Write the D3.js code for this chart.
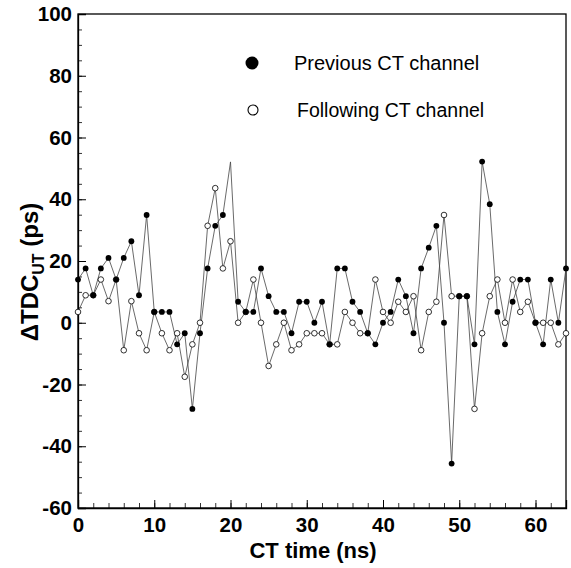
<!DOCTYPE html>
<html><head><meta charset="utf-8">
<script src="https://cdn.jsdelivr.net/npm/d3@7"></script>
<style>body{margin:0;background:#fff}svg{display:block}</style>
</head><body>
<svg id="c" width="571" height="568"></svg>
<script>
const timeNs = d3.range(0, 65);
const previousCT = [14,17.6,8.9,17.6,21,14,21,26.4,8.9,34.9,3.5,3.5,3.5,-7,-3.4,-27.9,-3.4,17.6,31.4,34.9,52.1,6.8,3.5,3.5,17.6,8.6,3.5,3.5,-3.4,6.8,6.8,0,6.8,-7,17.6,17.6,6.8,3.5,-3.4,-7,0,3.5,14,8.6,-3.4,17.6,24.3,31.4,0,-45.6,8.6,8.6,-7,52.2,38.4,3.5,-7,6.8,14,14,0,-7,14,0,17.6];
const followingCT = [3.5,8.9,8.9,14,7,14,-8.9,7,-3.4,-8.9,3.5,-3.4,-8.9,-3.4,-17.5,-7,0,31.4,43.6,17.6,26.4,0,3.5,14,0,-14,-7,0,-8.9,-7,-3.4,-3.4,-3.4,-7,-7,3.5,0,-3.4,-3.4,14,3.5,0,6.8,3.5,8.6,-8.9,3.5,6.8,34.9,8.6,8.6,8.6,-27.9,-3.4,8.6,14,0,14,3.5,6.8,0,0,0,-7,-3.4];
const previousHiddenMarkers = [20];
const xMajorTicks = [0,10,20,30,40,50,60];
const yMajorTicks = [-60,-40,-20,0,20,40,60,80,100];
const legendLabels = ["Previous CT channel", "Following CT channel"];

const svg = d3.select("#c");
const x = d3.scaleLinear().domain([0,64]).range([78,566]);
const y = d3.scaleLinear().domain([-60,100]).range([508,14]);
const FONT = "'Liberation Sans', Arial, Helvetica, sans-serif";
const fmt = d => String(d);

// frame
svg.append("rect").attr("x",x(0)).attr("y",y(100)).attr("width",x(64)-x(0)).attr("height",y(-60)-y(100))
  .attr("fill","none").attr("stroke","#000").attr("stroke-width",1.3);

// minor ticks
const gxm = svg.append("g").attr("transform",`translate(0,${y(-60)})`)
  .call(d3.axisBottom(x).tickValues(d3.range(0,65,2)).tickSize(-5).tickFormat(""));
const gym = svg.append("g").attr("transform",`translate(${x(0)},0)`)
  .call(d3.axisLeft(y).tickValues(d3.range(-60,101,5)).tickSize(-4).tickFormat(""));
[gxm,gym].forEach(g=>{g.select(".domain").remove(); g.selectAll("line").attr("stroke","#000").attr("stroke-width",0.8);});

// major axes
const gx = svg.append("g").attr("transform",`translate(0,${y(-60)})`)
  .call(d3.axisBottom(x).tickValues(xMajorTicks).tickSize(-8).tickPadding(14).tickFormat(fmt));
const gy = svg.append("g").attr("transform",`translate(${x(0)},0)`)
  .call(d3.axisLeft(y).tickValues(yMajorTicks).tickSize(-8).tickPadding(6).tickFormat(fmt));
[gx,gy].forEach(g=>{
  g.select(".domain").attr("stroke","#000").attr("stroke-width",1.3);
  g.selectAll("line").attr("stroke","#000").attr("stroke-width",1);
  g.selectAll("text").attr("font-family",FONT).attr("font-weight","bold").attr("font-size",20.5).attr("fill","#000");
});
gx.selectAll("text").attr("dy","0.5em");

// axis titles
svg.append("text").attr("x",313).attr("y",558).attr("text-anchor","middle")
  .attr("font-family",FONT).attr("font-weight","bold").attr("font-size",22).text("CT time (ns)");
const yt = svg.append("text").attr("transform","translate(38,272) rotate(-90)").attr("text-anchor","middle")
  .attr("font-family",FONT).attr("font-weight","bold").attr("font-size",24);
yt.append("tspan").text("\u0394TDC");
yt.append("tspan").attr("font-size",16).attr("dy",6).text("UT");
yt.append("tspan").attr("dy",-6).text(" (ps)");

// lines
const line = d3.line().x((d,i)=>x(timeNs[i])).y(d=>y(d));
svg.append("path").datum(followingCT).attr("d",line).attr("fill","none").attr("stroke","#444").attr("stroke-width",0.8);
svg.append("path").datum(previousCT).attr("d",line).attr("fill","none").attr("stroke","#444").attr("stroke-width",0.8);

// markers
svg.append("g").selectAll("circle").data(followingCT).join("circle")
  .attr("cx",(d,i)=>x(timeNs[i])).attr("cy",d=>y(d)).attr("r",2.8)
  .attr("fill","#fff").attr("stroke","#000").attr("stroke-width",0.8);
svg.append("g").selectAll("circle").data(previousCT.map((v,i)=>({v,i})).filter(d=>!previousHiddenMarkers.includes(d.i))).join("circle")
  .attr("cx",d=>x(timeNs[d.i])).attr("cy",d=>y(d.v)).attr("r",2.9).attr("fill","#000");

// legend
svg.append("circle").attr("cx",252).attr("cy",63).attr("r",6.5).attr("fill","#000");
svg.append("circle").attr("cx",253).attr("cy",110).attr("r",5).attr("fill","#fff").attr("stroke","#000").attr("stroke-width",1.1);
svg.append("text").attr("x",294).attr("y",70).attr("font-family",FONT).attr("font-size",20).text(legendLabels[0]);
svg.append("text").attr("x",297).attr("y",117).attr("font-family",FONT).attr("font-size",19.5).text(legendLabels[1]);
</script>
</body></html>
